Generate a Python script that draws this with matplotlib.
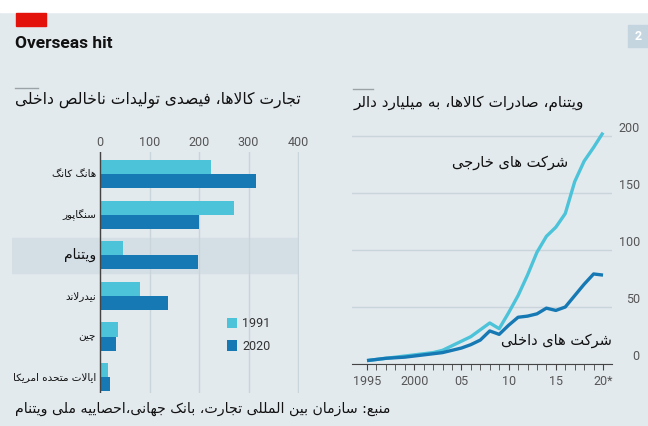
import matplotlib
matplotlib.use("Agg")
import matplotlib.pyplot as plt
from matplotlib.patches import Rectangle
from matplotlib.lines import Line2D
from matplotlib.transforms import ScaledTranslation
import numpy as np

# ---- data ---------------------------------------------------------------
countries = ["هانگ کانگ", "سنگاپور", "ویتنام", "نیدرلاند", "چین", "ایالات متحده امریکا"]
trade_1991 = [224, 270, 46, 80, 36, 17]
trade_2020 = [316, 200, 198, 138, 32, 20]

years = list(range(1995, 2021))
foreign = [3, 4, 5, 6, 7, 8, 9, 10, 12, 16, 20, 24, 30, 36, 31, 45,
           60, 78, 98, 112, 120, 132, 160, 178, 190, 203]
domestic = [3, 4, 5, 5.5, 6, 7, 8, 9, 10, 12, 14, 17, 21, 29, 26, 34,
            41, 42, 44, 49, 47, 50, 60, 70, 79, 78]

x_ticks = [0, 100, 200, 300, 400]
year_ticks = [1995, 2000, 2005, 2010, 2015, 2020]
year_labels = ["1995", "2000", "05", "10", "15", "20*"]
y_ticks = [0, 50, 100, 150, 200]

title = "Overseas hit"
left_sub = "تجارت کالاها، فیصدی تولیدات ناخالص داخلی"
right_sub = "ویتنام، صادرات کالاها، به میلیارد دالر"
foreign_lbl = "شرکت های خارجی"
domestic_lbl = "شرکت های داخلی"
source = "منبع: سازمان بین المللی تجارت، بانک جهانی،احصاییه ملی ویتنام"

BG = "#e3eaee"
LIGHT = "#4cc3d9"
DARK = "#1679b4"
GRID = "#c9d4db"

# ---- minimal Persian shaping (presentation forms + RTL order) ----------
AR_FORMS = {
    # isolated, final, initial, medial
    "\u0627": ("\uFE8D", "\uFE8E", None, None),
    "\u0622": ("\uFE81", "\uFE82", None, None),
    "\u0628": ("\uFE8F", "\uFE90", "\uFE91", "\uFE92"),
    "\u067E": ("\uFB56", "\uFB57", "\uFB58", "\uFB59"),
    "\u062A": ("\uFE95", "\uFE96", "\uFE97", "\uFE98"),
    "\u062C": ("\uFE9D", "\uFE9E", "\uFE9F", "\uFEA0"),
    "\u0686": ("\uFB7A", "\uFB7B", "\uFB7C", "\uFB7D"),
    "\u062D": ("\uFEA1", "\uFEA2", "\uFEA3", "\uFEA4"),
    "\u062E": ("\uFEA5", "\uFEA6", "\uFEA7", "\uFEA8"),
    "\u062F": ("\uFEA9", "\uFEAA", None, None),
    "\u0631": ("\uFEAD", "\uFEAE", None, None),
    "\u0632": ("\uFEAF", "\uFEB0", None, None),
    "\u0633": ("\uFEB1", "\uFEB2", "\uFEB3", "\uFEB4"),
    "\u0634": ("\uFEB5", "\uFEB6", "\uFEB7", "\uFEB8"),
    "\u0635": ("\uFEB9", "\uFEBA", "\uFEBB", "\uFEBC"),
    "\u0639": ("\uFEC9", "\uFECA", "\uFECB", "\uFECC"),
    "\u0641": ("\uFED1", "\uFED2", "\uFED3", "\uFED4"),
    "\u06A9": ("\uFB8E", "\uFB8F", "\uFB90", "\uFB91"),
    "\u06AF": ("\uFB92", "\uFB93", "\uFB94", "\uFB95"),
    "\u0644": ("\uFEDD", "\uFEDE", "\uFEDF", "\uFEE0"),
    "\u0645": ("\uFEE1", "\uFEE2", "\uFEE3", "\uFEE4"),
    "\u0646": ("\uFEE5", "\uFEE6", "\uFEE7", "\uFEE8"),
    "\u0647": ("\uFEE9", "\uFEEA", "\uFEEB", "\uFEEC"),
    "\u0648": ("\uFEED", "\uFEEE", None, None),
    "\u06CC": ("\uFBFC", "\uFBFD", "\uFBFE", "\uFBFF"),
}


def joins_next(c):
    return c in AR_FORMS and AR_FORMS[c][2] is not None


def fa(text):
    out = []
    n = len(text)
    i = 0
    while i < n:
        c = text[i]
        if c not in AR_FORMS:
            out.append(c)
            i += 1
            continue
        prev = text[i - 1] if i > 0 else ""
        linked_prev = joins_next(prev)
        if c == "\u0644" and i + 1 < n and text[i + 1] == "\u0627":
            out.append("\uFEFC" if linked_prev else "\uFEFB")
            i += 2
            continue
        nxt = text[i + 1] if i + 1 < n else ""
        linked_next = joins_next(c) and nxt in AR_FORMS
        iso, fin, ini, med = AR_FORMS[c]
        if linked_prev and linked_next:
            out.append(med)
        elif linked_prev:
            out.append(fin)
        elif linked_next:
            out.append(ini)
        else:
            out.append(iso)
        i += 1
    return "".join(reversed(out))


AR_FONT = ["DejaVu Sans"]
NUM_FONT = ["Liberation Sans Narrow", "Roboto", "DejaVu Sans"]

W, H = 648, 426
fig = plt.figure(figsize=(W / 100, H / 100), dpi=100, facecolor=BG)


def fx(x):
    return x / W


def fy(y):
    return 1 - y / H


# decorations
fig.patches.append(Rectangle((0, fy(12)), 1, 12 / H, transform=fig.transFigure,
                             color="white", zorder=0))
fig.patches.append(Rectangle((fx(16), fy(26)), 30 / W, 13 / H, transform=fig.transFigure,
                             color="#e3120b", zorder=1))
fig.patches.append(Rectangle((fx(628), fy(47)), 20 / W, 22 / H, transform=fig.transFigure,
                             color="#c4d5df", zorder=1))
fig.text(fx(638), fy(36), "2", color="white", fontsize=9, fontweight="bold",
         ha="center", va="center", family=NUM_FONT)
fig.text(fx(15), fy(43), title, fontsize=12.5, fontweight="bold", color="#111111",
         ha="left", va="center", family=NUM_FONT)

fig.add_artist(Line2D([fx(15), fx(38)], [fy(88), fy(88)], color="#9aa3a8", lw=1))
fig.add_artist(Line2D([fx(353), fx(373)], [fy(89), fy(89)], color="#9aa3a8", lw=1))
fig.text(fx(15), fy(100), fa(left_sub), fontsize=11.2, family=AR_FONT,
         ha="left", va="center", color="#111111")
fig.text(fx(354), fy(103), fa(right_sub), fontsize=11, family=AR_FONT,
         ha="left", va="center", color="#111111")
fig.text(fx(15), fy(409), fa(source), fontsize=10.2, family=AR_FONT,
         ha="left", va="center", color="#111111")

# ---- left: bar chart ----------------------------------------------------
ax1 = fig.add_axes([fx(12), fy(393), (299 - 12) / W, (393 - 152) / H])
ax1.set_facecolor(BG)
ypos = np.arange(len(countries))
bh = 0.345
ax1.barh(ypos - bh / 2, trade_1991, height=bh, color=LIGHT, label="1991", zorder=3)
ax1.barh(ypos + bh / 2, trade_2020, height=bh, color=DARK, label="2020", zorder=3)
ax1.axhspan(2 - 0.43, 2 + 0.43, color="#d3dee5", zorder=0)
ax1.set_xlim(-178, 402)
ax1.set_ylim(5.39, -0.54)
ax1.set_xticks(x_ticks)
ax1.xaxis.tick_top()
ax1.tick_params(axis="x", length=0, pad=2, labelsize=9, labelcolor="#555555")
for lab in ax1.get_xticklabels():
    lab.set_family(NUM_FONT)
ax1.set_yticks([])
ax1.grid(axis="x", color=GRID, lw=1, zorder=1)
ax1.axvline(0, color="#444444", lw=1, zorder=4)
for s in ax1.spines.values():
    s.set_visible(False)
for i, name in enumerate(countries):
    big = name == "ویتنام"
    ax1.text(-8, i, fa(name), ha="right", va="center", family=AR_FONT,
             fontsize=10 if big else 7.5, color="#111111")
leg = ax1.legend(loc="upper left", bbox_to_anchor=(0.71, 0.36), frameon=False,
                 handlelength=0.8, handleheight=0.9, handletextpad=0.4,
                 labelspacing=0.75, fontsize=9)
for t in leg.get_texts():
    t.set_family(NUM_FONT)
    t.set_color("#333333")

# ---- right: line chart --------------------------------------------------
ax2 = fig.add_axes([fx(352), fy(364), (612 - 352) / W, (364 - 130) / H])
ax2.set_facecolor(BG)
ax2.plot(years, foreign, color=LIGHT, lw=2.4, zorder=3, solid_capstyle="butt")
ax2.plot(years, domestic, color=DARK, lw=2.4, zorder=4, solid_capstyle="butt")
ax2.set_xlim(1993.41, 2020.95)
ax2.set_ylim(0, 205.3)
ax2.set_xticks(year_ticks)
ax2.set_xticklabels(year_labels)
ax2.set_xticks(years, minor=True)
ax2.tick_params(axis="x", which="both", direction="out", length=4, color="#444444",
                pad=4, labelsize=9, labelcolor="#555555")
ax2.set_yticks(y_ticks)
ax2.yaxis.tick_right()
ax2.tick_params(axis="y", length=0, pad=20, labelsize=9, labelcolor="#555555")
off = ScaledTranslation(0, 9 / 100, fig.dpi_scale_trans)
for lab in ax2.get_yticklabels():
    lab.set_horizontalalignment("right")
    lab.set_transform(lab.get_transform() + off)
for lab in ax2.get_xticklabels() + ax2.get_yticklabels():
    lab.set_family(NUM_FONT)
ax2.grid(axis="y", color=GRID, lw=1, zorder=1)
for s in ["top", "left", "right"]:
    ax2.spines[s].set_visible(False)
ax2.spines["bottom"].set_color("#444444")
ax2.spines["bottom"].set_zorder(5)
ax2.text(2010.1, 177, fa(foreign_lbl), ha="center", va="center", family=AR_FONT,
         fontsize=10.5, color="#111111")
ax2.text(2015.1, 21, fa(domestic_lbl), ha="center", va="center", family=AR_FONT,
         fontsize=10.5, color="#111111")

fig.savefig("out.png", dpi=100, facecolor=BG)
